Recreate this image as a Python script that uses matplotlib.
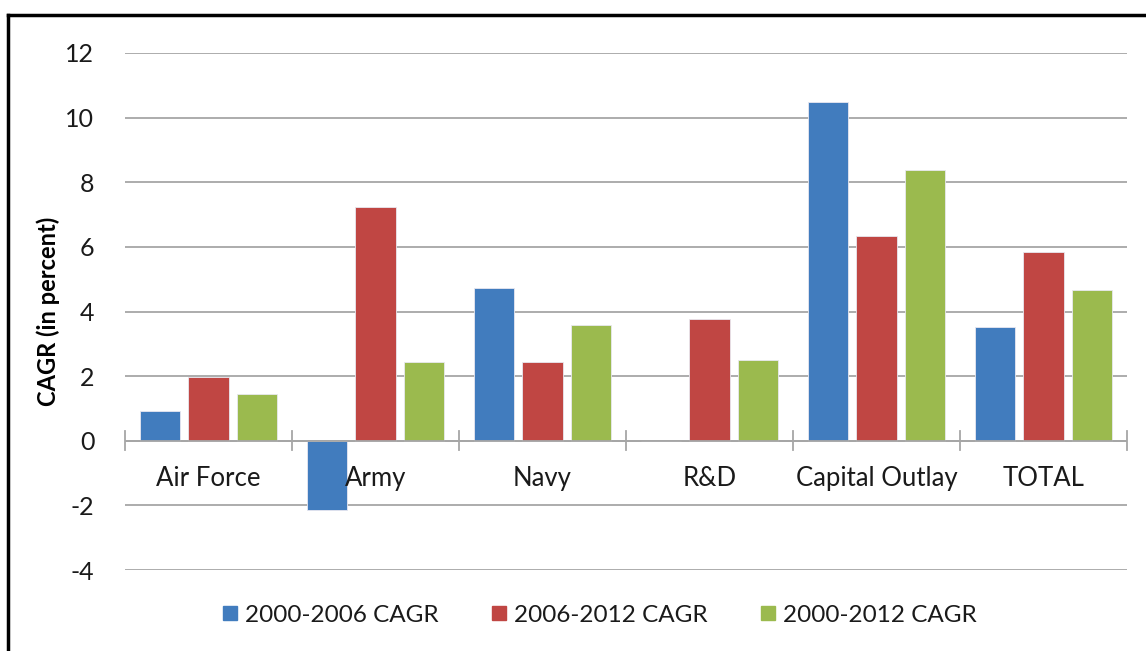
import numpy as np
import matplotlib.pyplot as plt
from matplotlib.lines import Line2D

categories = ["Air Force", "Army", "Navy", "R&D", "Capital Outlay", "TOTAL"]
series_names = ["2000-2006 CAGR", "2006-2012 CAGR", "2000-2012 CAGR"]
cagr_00_06 = [0.93, -2.13, 4.73, 0.0, 10.49, 3.53]
cagr_06_12 = [1.98, 7.24, 2.44, 3.77, 6.34, 5.85]
cagr_00_12 = [1.45, 2.44, 3.59, 2.50, 8.38, 4.67]
yticks = [-4, -2, 0, 2, 4, 6, 8, 10, 12]

colors = ["#417CBE", "#C04643", "#9BBA4E"]
plt.rcParams['font.family'] = ['Lato', 'DejaVu Sans']

fig = plt.figure(figsize=(11.46, 6.51), dpi=100)
ax = fig.add_axes([125 / 1146, 1 - 570 / 651, (1127 - 125) / 1146, (570 - 53) / 651])

x = np.arange(len(categories))
offsets = [-0.293, 0, 0.293]
for vals, off, col, name in zip([cagr_00_06, cagr_06_12, cagr_00_12], offsets, colors, series_names):
    ax.bar(x + off, vals, width=0.24, color=col, edgecolor="#e8e8f0", linewidth=0.6, label=name, zorder=3)

ax.set_xlim(-0.5, len(categories) - 0.5)
ax.set_ylim(-4, 12)
ax.set_yticks(yticks)
ax.set_yticklabels([str(t) for t in yticks], fontsize=18, color="#1a1a1a")
ax.tick_params(axis="y", length=0, pad=22)
ax.grid(axis="y", color="#a6a6a6", linewidth=1.3, zorder=0)
for s in ax.spines.values():
    s.set_visible(False)

# category axis at zero with crossing ticks
ax.axhline(0, color="#a6a6a6", linewidth=1.3, zorder=4)
ax.set_xticks([])
for b in np.arange(-0.5, len(categories), 1.0):
    ax.plot([b, b], [-0.3, 0.3], color="#a6a6a6", linewidth=1.3, zorder=4, clip_on=False)
for xi, cat in zip(x, categories):
    ax.text(xi, -1.18, cat, ha="center", va="center", fontsize=18.5, color="#1a1a1a", zorder=5)

ax.set_ylabel("CAGR (in percent)", fontsize=17, fontweight="bold", labelpad=4)

handles = [Line2D([], [], marker="s", linestyle="", markersize=10, color=c) for c in colors]
fig.legend(handles, series_names, loc="center", bbox_to_anchor=(596 / 1146, 1 - 615 / 651),
           ncol=3, frameon=False, fontsize=17.5, handletextpad=0.0, columnspacing=1.9,
           handlelength=1.2, labelcolor="#1a1a1a")

# frame of the page
fig.add_artist(Line2D([8 / 1146, 1], [1 - 15 / 651, 1 - 15 / 651], color="black", linewidth=2.5))
fig.add_artist(Line2D([8 / 1146, 8 / 1146], [0, 1 - 15 / 651], color="black", linewidth=2.5))

fig.savefig("out.png", dpi=100)
